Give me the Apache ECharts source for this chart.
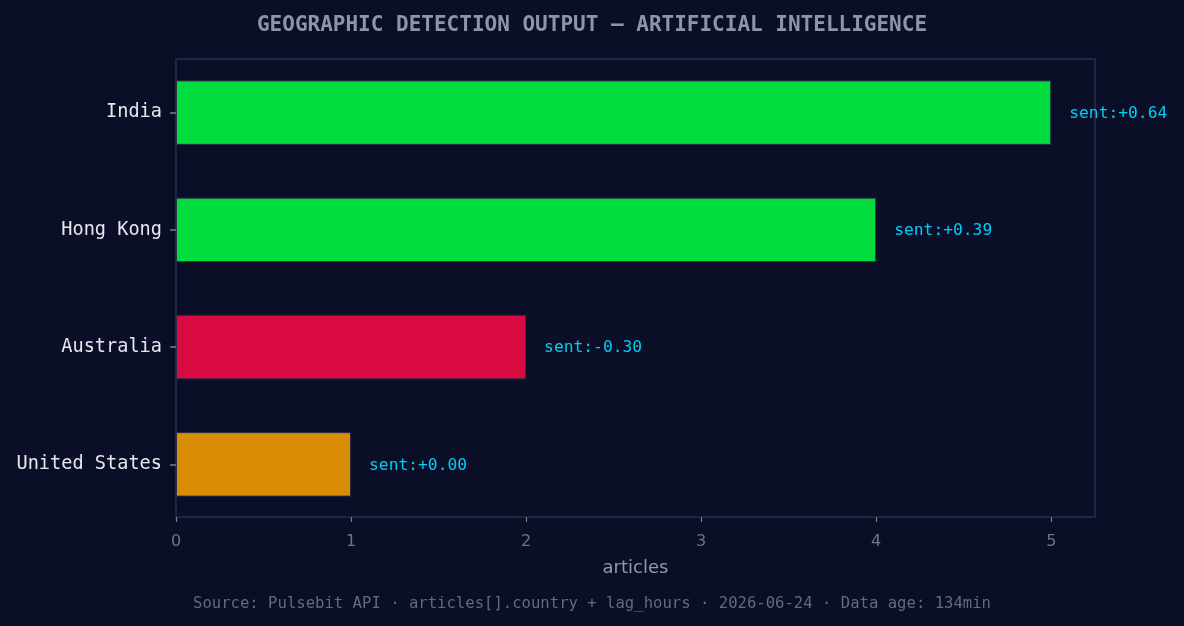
<!DOCTYPE html>
<html>
<head>
<meta charset="utf-8">
<script src="https://cdn.jsdelivr.net/npm/echarts@6/dist/echarts.min.js"></script>
<style>
html,body{margin:0;padding:0;background:#0a0e27;}
#c{width:1184px;height:626px;}
</style>
</head>
<body>
<div id="c"></div>
<script>
const countries = ["India", "Hong Kong", "Australia", "United States"];
const articles = [5, 4, 2, 1];
const sentiment = [0.64, 0.39, -0.30, 0.00];
const xTicks = [0, 1, 2, 3, 4, 5];
const titleText = "GEOGRAPHIC DETECTION OUTPUT — ARTIFICIAL INTELLIGENCE";
const footerText = "Source: Pulsebit API · articles[].country + lag_hours · 2026-06-24 · Data age: 134min";

function colorFor(s) {
  if (s > 0.05) return "#00db3d";
  if (s < -0.05) return "#d80a3f";
  return "#d98c05";
}
function fmtSent(s) {
  return "sent:" + (s >= 0 ? "+" : "-") + Math.abs(s).toFixed(2);
}

const chart = echarts.init(document.getElementById("c"));
const mono = "'DejaVu Sans Mono', monospace";
const sans = "'DejaVu Sans', sans-serif";

chart.setOption({
  backgroundColor: "#0a0e27",
  animation: false,
  title: [
    { text: titleText, left: "center", top: 10,
      textStyle: { fontFamily: mono, fontWeight: "bold", fontSize: 21, color: "#8e95a8" } },
    { text: footerText, left: "center", top: 591,
      textStyle: { fontFamily: mono, fontWeight: "normal", fontSize: 15.6, color: "#646b7d" } }
  ],
  grid: [
    { left: 176, right: 89, top: 54, bottom: 103, show: false },
    { left: 176, right: 89, top: 59, bottom: 109, show: true,
      borderColor: "#2a2e4a", borderWidth: 1.5, backgroundColor: "transparent" }
  ],
  xAxis: [
    { gridIndex: 0, type: "value", min: 0, max: 5.25, show: false, splitLine: { show: false } },
    { gridIndex: 1, type: "value", min: 0, max: 5.25, interval: 1,
      axisLine: { show: false },
      axisTick: { show: true, length: 5, customValues: xTicks, lineStyle: { color: "#7a7f90", width: 1.2 } },
      splitLine: { show: false },
      axisLabel: { fontFamily: sans, fontSize: 16, color: "#6f7688", margin: 17,
        customValues: xTicks, formatter: v => String(v) },
      name: "articles", nameLocation: "middle", nameGap: 42,
      nameTextStyle: { fontFamily: sans, fontSize: 18, color: "#9499a8" } }
  ],
  yAxis: [
    { gridIndex: 0, type: "category", data: countries, inverse: true,
      axisLine: { show: false },
      axisTick: { show: true, alignWithLabel: true, length: 6, lineStyle: { color: "#7a7f90", width: 1.5 } },
      axisLabel: { fontFamily: mono, fontSize: 18.6, color: "#e6e8ee", margin: 14, padding: [3, 0, 0, 0] },
      splitLine: { show: false } },
    { gridIndex: 1, type: "value", show: false }
  ],
  series: [{
    type: "bar",
    xAxisIndex: 0, yAxisIndex: 0,
    barWidth: "55%",
    data: articles.map((v, i) => ({
      value: v,
      itemStyle: { color: colorFor(sentiment[i]), borderColor: "#2a2e4a", borderWidth: 1 },
      label: { formatter: fmtSent(sentiment[i]) }
    })),
    label: { show: true, position: "right", distance: 18, offset: [0, 1],
      fontFamily: mono, fontSize: 16.3, color: "#00cff5" }
  }]
});
</script>
</body>
</html>
